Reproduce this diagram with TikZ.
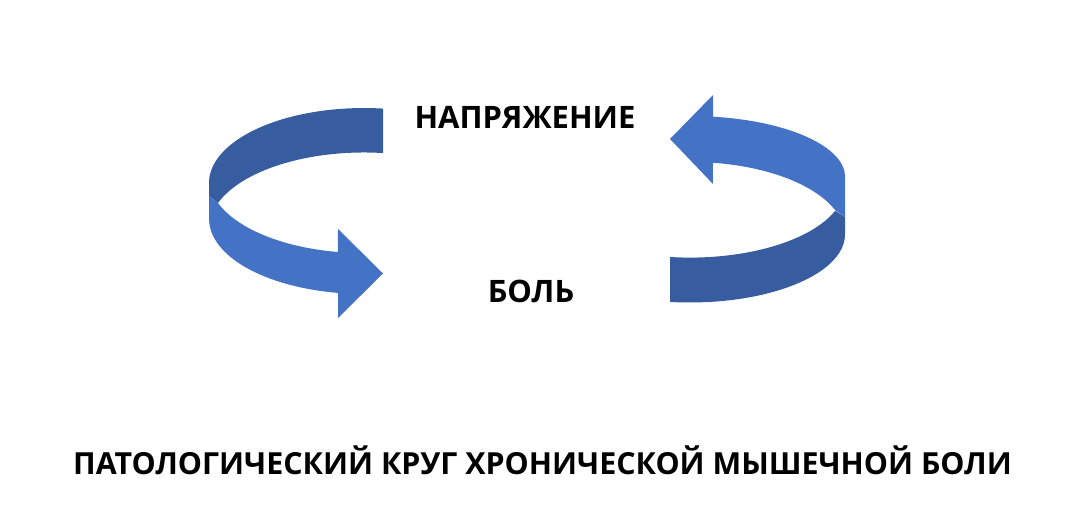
\documentclass[tikz,border=0pt]{standalone}
\usepackage{fontspec}
\setmainfont{Open Sans}
\usepackage{tikz}
\usetikzlibrary{positioning}
\definecolor{ribbonlight}{RGB}{68,114,196}
\definecolor{ribbondark}{RGB}{55,92,160}

\begin{document}
\begin{tikzpicture}[
			x=0.02cm,y=0.02cm,
			label/.style={
				inner sep=0pt,
				anchor=base,
				font=\bfseries\fontsize{17.6}{20}\selectfont
			},
			caption/.style={label,font=\bfseries\fontsize{17.3}{21}\selectfont},
			front/.style={fill=ribbonlight},
			back/.style={fill=ribbondark}
			]
			\useasboundingbox (0,0) rectangle (1067,516);
			
			% left ribbon
			\fill[back] (383,407.4) arc[start angle=82.96,end angle=180,x radius=155,y radius=75]
				-- (209,320) -- (218,313)
				arc[start angle=160.4,end angle=82.96,x radius=155,y radius=76] -- cycle;
			\fill[front] (209,320) -- (218,313)
				arc[start angle=199.6,end angle=260.3,x radius=155,y radius=75.4]
				-- (338,287) -- (383,242.5) -- (338,198) -- (338,223.1)
				arc[start angle=260.3,end angle=180,x radius=155,y radius=75] -- cycle;
			
			% right ribbon
			\fill[back] (670,259) arc[start angle=262.6,end angle=339.5,x radius=155,y radius=72]
				-- (845,299) -- (845,281.5)
				arc[start angle=0,end angle=-97.4,x radius=155,y radius=68] -- cycle;
			\fill[front] (713,399.3) arc[start angle=81.5,end angle=0,x radius=155,y radius=61]
				-- (845,299) -- (835,306)
				arc[start angle=20.5,end angle=81.5,x radius=155,y radius=74]
				-- (713,332) -- (670,377) -- (713,421) -- cycle;
			
			\node[label] (tension) at (525,387) {НАПРЯЖЕНИЕ};
			\node[label] (pain) at (531,213) {БОЛЬ};
			\node[caption] (title) at (542.5,41) {ПАТОЛОГИЧЕСКИЙ КРУГ ХРОНИЧЕСКОЙ МЫШЕЧНОЙ БОЛИ};
			
		\end{tikzpicture}
\end{document}
